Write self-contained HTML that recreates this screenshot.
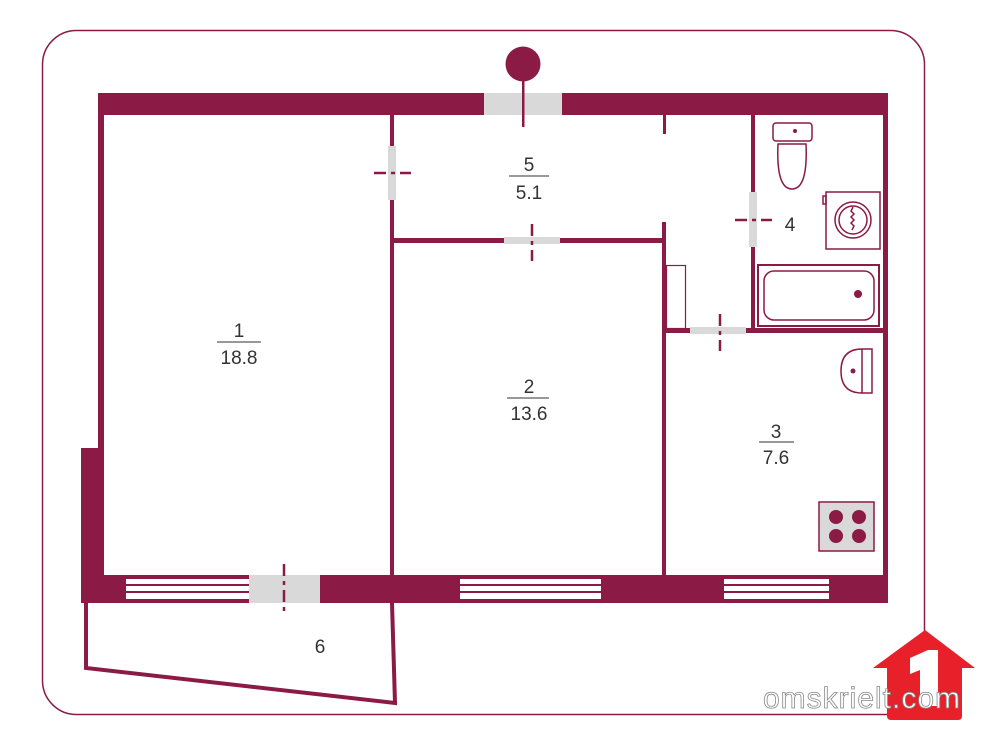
<!DOCTYPE html>
<html><head><meta charset="utf-8"><style>
html,body{margin:0;padding:0;background:#fff;width:1000px;height:742px;overflow:hidden}
text{font-family:"Liberation Sans",sans-serif;fill:#333}
</style></head><body>
<svg width="1000" height="742" viewBox="0 0 1000 742" xmlns="http://www.w3.org/2000/svg">
<g fill="#8b1a45" stroke="none">
<rect x="42.5" y="30.5" width="882" height="684" rx="34" fill="none" stroke="#8b1a45" stroke-width="1.5"/>
<rect x="98" y="93" width="790" height="22"/>
<rect x="484" y="93" width="78" height="22" fill="#d9d9d9"/>
<rect x="98" y="93" width="6" height="510"/>
<rect x="81" y="448" width="22" height="155"/>
<rect x="883" y="93" width="5" height="510"/>
<rect x="81" y="575" width="807" height="28"/>
<rect x="126" y="579" width="123" height="20" fill="#fff"/>
<rect x="126" y="584" width="123" height="2"/><rect x="126" y="591" width="123" height="2"/>
<rect x="249" y="575" width="71" height="28" fill="#d9d9d9"/>
<rect x="460" y="579" width="141" height="20" fill="#fff"/>
<rect x="460" y="584" width="141" height="2"/><rect x="460" y="591" width="141" height="2"/>
<rect x="724" y="579" width="105" height="20" fill="#fff"/>
<rect x="724" y="584" width="105" height="2"/><rect x="724" y="591" width="105" height="2"/>
<rect x="390" y="114" width="4" height="462"/>
<rect x="388" y="146" width="8" height="54" fill="#d9d9d9"/>
<rect x="394" y="238" width="269" height="5"/>
<rect x="504" y="237" width="56" height="7" fill="#d9d9d9"/>
<rect x="662" y="222" width="4" height="354"/>
<rect x="663" y="114" width="3" height="20"/>
<rect x="751" y="114" width="4" height="218"/>
<rect x="749" y="192" width="8" height="55" fill="#d9d9d9"/>
<rect x="662" y="328" width="226" height="5"/>
<rect x="690" y="327" width="56" height="7" fill="#d9d9d9"/>
<rect x="666.5" y="265.5" width="19" height="63" fill="none" stroke="#8b1a45" stroke-width="1.2"/>
<circle cx="523" cy="64" r="17.5"/>
<rect x="522" y="64" width="2.5" height="63"/>
</g>
<g stroke="#8b1a45" stroke-width="2.5" stroke-dasharray="12,5,4,5" fill="none">
<line x1="374" y1="173" x2="411" y2="173"/>
<line x1="532" y1="224" x2="532" y2="261"/>
<line x1="735" y1="220" x2="772" y2="220"/>
<line x1="720" y1="314" x2="720" y2="351"/>
<line x1="284" y1="564" x2="284" y2="616"/>
</g>
<polyline points="86,603 86,668 395,703 392,603" fill="none" stroke="#8b1a45" stroke-width="4"/>
<g fill="none" stroke="#8b1a45" stroke-width="1.5">
<rect x="773" y="123" width="39" height="18" rx="3"/>
<path d="M778,144 Q776,189 792,189 Q808,189 806,144 Z"/>
<rect x="826" y="192" width="54" height="57"/>
<rect x="823" y="196" width="3" height="8"/>
<circle cx="853" cy="220" r="18"/>
<circle cx="853" cy="220" r="14"/>
<path d="M853,207 l-2,4 3,3 -3,3 3,3 -3,3 3,3 -2,4"/>
<rect x="758" y="265" width="121" height="61" stroke-width="2"/>
<rect x="764" y="271" width="110" height="49" rx="10"/>
<path d="M872,349 L862,349 Q841,349 841,371 Q841,393 862,393 L872,393 Z"/>
<line x1="862" y1="349" x2="862" y2="393"/>
<rect x="819" y="502" width="55" height="49" fill="#d9d9d9"/>
</g>
<g fill="#8b1a45">
<circle cx="795" cy="131" r="2"/>
<circle cx="858" cy="294" r="4"/>
<circle cx="853" cy="371" r="2.5"/>
<circle cx="836" cy="517" r="7"/><circle cx="859" cy="517" r="7"/>
<circle cx="836" cy="536" r="7"/><circle cx="859" cy="536" r="7"/>
</g>
<g font-size="19" text-anchor="middle">
<text x="239" y="337">1</text><line x1="217" y1="342" x2="261" y2="342" stroke="#333"/><text x="239" y="364">18.8</text>
<text x="529" y="393">2</text><line x1="507" y1="398" x2="549" y2="398" stroke="#333"/><text x="529" y="420">13.6</text>
<text x="776" y="438">3</text><line x1="759" y1="442" x2="794" y2="442" stroke="#333"/><text x="776" y="464">7.6</text>
<text x="529" y="171">5</text><line x1="509" y1="176" x2="549" y2="176" stroke="#333"/><text x="529" y="199">5.1</text>
<text x="790" y="231">4</text>
<text x="320" y="653">6</text>
</g>
<path d="M925,630 L975,668 L962,668 L962,716 Q962,720 958,720 L891,720 Q887,720 887,716 L887,668 L873,668 Z" fill="#e8202a"/>
<path d="M910,658 L928,650 L938,650 L938,706 L920,706 L920,670 L910,674 Z" fill="#fff"/>
<text x="862" y="708" font-size="30" text-anchor="middle" style="fill:#fff;stroke:#888;stroke-width:0.8;letter-spacing:1px">omskrielt.com</text>
</svg>
</body></html>
